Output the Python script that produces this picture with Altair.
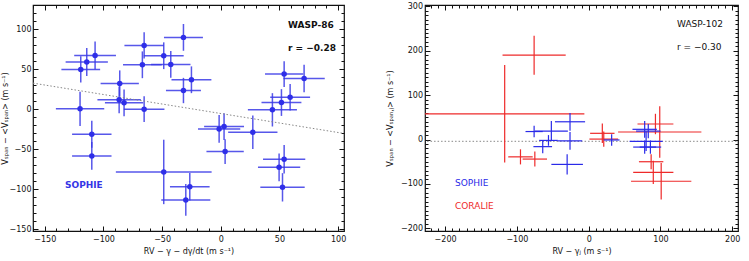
import altair as alt
import pandas as pd

FONT = "DejaVu Sans"

# ---------------- WASP-86 (SOPHIE) ----------------
w86_rv = [-119.3, -114.2, -107.1, -119.9, -109.9, -109.9, -86.1, -86.6, -82.4, -66.8,
          -65.3, -65.3, -48.6, -42.6, -31.8, -31.8, -25.0, -48.6, -26.4, -29.8,
          -1.4, 2.8, 3.7, 27.3, 44.0, 51.7, 59.1, 54.0, 71.0, 49.7, 54.0, 52.6]
w86_rv_err = [16.5, 18.0, 17.8, 20.6, 16.8, 16.8, 16.3, 18.5, 16.3, 16.5,
              16.8, 17.3, 17.0, 16.8, 16.6, 14.9, 17.0, 40.8, 16.9, 20.9,
              18.0, 17.0, 15.9, 21.0, 20.9, 17.0, 17.0, 16.3, 17.6, 18.0, 18.0, 18.9]
w86_vspan = [49.6, 58.8, 67.1, 0.4, -31.3, -58.3, 32.1, 11.7, 7.9, 55.4,
             79.6, 0.0, 66.7, 55.8, 89.6, 23.3, 36.7, -78.3, -96.7, -113.3,
             -24.6, -21.7, -52.9, -28.8, -0.8, 8.3, 15.0, 43.8, 38.3, -72.5, -62.5, -97.5]
w86_vspan_err = [16.3, 17.5, 17.3, 21.5, 16.9, 17.3, 16.3, 16.7, 16.7, 16.7,
                 16.3, 16.0, 16.7, 16.7, 16.7, 15.8, 16.7, 40.2, 17.1, 19.8,
                 17.3, 16.7, 15.4, 20.8, 20.8, 16.7, 16.5, 16.0, 17.1, 17.3, 17.7, 17.7]
w86_fit_x = [-160, 105]
w86_fit_slope = -0.237
w86_fit_intercept = -5.4

# ---------------- WASP-102 ----------------
w102s_rv = [-76, -52, -26, -26, -56, -64, -30, 32, 78, 83, 80, 78, 86]
w102s_rv_err = [12, 23, 21, 17, 13, 13, 22, 11, 17, 17, 23, 16, 15]
w102s_vspan = [18, 19, 40, -3, -2, -16, -56, -1, 23, 19, -4, -17, -17]
w102s_vspan_err = [13, 23, 20, 20, 12, 15, 23, 13, 19, 16, 22, 15, 15]

w102c_rv = [-76, -117, -95, -75, 19, 21, 99, 93, 87, 90, 101]
w102c_rv_err = [44, 111, 17, 17, 17, 20, 58, 25, 17, 28, 42]
w102c_vspan = [190, 58, -39, -44, 14, 1, 17, 35, -50, -74, -94]
w102c_vspan_err = [44, 110, 17, 17, 22, 17, 58, 23, 17, 26, 41]
w102_fit_x = [-230, 210]
w102_fit_slope = 0.0
w102_fit_intercept = -4.0

# axis ticks
L_X_MAJOR = [-150, -100, -50, 0, 50, 100]
L_X_MINOR = [v for v in range(-160, 106, 10) if v not in L_X_MAJOR]
L_Y_MAJOR = [-150, -100, -50, 0, 50, 100]
L_Y_MINOR = [v for v in range(-150, 131, 10) if v not in L_Y_MAJOR]
R_X_MAJOR = [-200, -100, 0, 100, 200]
R_X_MINOR = [v for v in range(-220, 209, 10) if v not in R_X_MAJOR]
R_Y_MAJOR = [-200, -100, 0, 100, 200, 300]
R_Y_MINOR = [v for v in range(-200, 301, 10) if v not in R_Y_MAJOR]

L_XDOM = [-160, 105]
L_YDOM = [-152, 130]
R_XDOM = [-228, 208]
R_YDOM = [-206, 303]

TICK_COLOR = "#111111"


def tick_axis(orient, values, size):
    return alt.Axis(orient=orient, values=values, tickSize={"expr": str(-size)},
                    labels=False, domain=False, grid=False, ticks=True, title=None,
                    tickColor=TICK_COLOR, tickWidth=1)


def label_axis(orient, values, size, title, label_pad, title_pad):
    return alt.Axis(orient=orient, values=values, tickSize={"expr": str(-size)},
                    labels=True, domain=False, grid=False, ticks=True, title=title,
                    labelPadding=label_pad, titlePadding=title_pad,
                    labelFont=FONT, labelFontSize=8, labelColor=TICK_COLOR,
                    titleFont=FONT, titleFontSize=8, titleFontWeight="normal",
                    titleColor=TICK_COLOR, labelFlush=False, labelOverlap=False,
                    tickColor=TICK_COLOR, tickWidth=1)


def make_df(rv, rv_err, vs, vs_err):
    df = pd.DataFrame({"x": rv, "xerr": rv_err, "y": vs, "yerr": vs_err})
    df["x_lo"] = df["x"] - df["xerr"]
    df["x_hi"] = df["x"] + df["xerr"]
    df["y_lo"] = df["y"] - df["yerr"]
    df["y_hi"] = df["y"] + df["yerr"]
    return df


def fit_df(xs, slope, intercept):
    return pd.DataFrame({"x": xs, "y": [intercept + slope * v for v in xs]})


# ---------------- left panel ----------------
d86 = make_df(w86_rv, w86_rv_err, w86_vspan, w86_vspan_err)
f86 = fit_df(w86_fit_x, w86_fit_slope, w86_fit_intercept)
lxs = alt.Scale(domain=L_XDOM, nice=False, zero=False)
lys = alt.Scale(domain=L_YDOM, nice=False, zero=False)
BLUE_L = "#3a3ae6"

l_xerr = alt.Chart(d86).mark_rule(color=BLUE_L, strokeWidth=1.5, opacity=0.85, clip=True).encode(
    x=alt.X("x_lo:Q", scale=lxs,
            axis=label_axis("bottom", L_X_MAJOR, 5, "RV − γ − dγ/dt (m s⁻¹)", 9, 4)),
    x2="x_hi:Q",
    y=alt.Y("y:Q", scale=lys,
            axis=label_axis("left", L_Y_MAJOR, 5, "Vₛₚₐₙ − <Vₛₚₐₙ> (m s⁻¹)", 7, 0)),
)
l_yerr = alt.Chart(d86).mark_rule(color=BLUE_L, strokeWidth=1.5, opacity=0.85, clip=True).encode(
    x=alt.X("x:Q", scale=lxs, axis=tick_axis("bottom", L_X_MINOR, 3)),
    y=alt.Y("y_lo:Q", scale=lys, axis=tick_axis("left", L_Y_MINOR, 3)),
    y2="y_hi:Q",
)
l_fit = alt.Chart(f86).mark_line(color="#888888", strokeWidth=1, strokeDash=[1.5, 2], clip=True).encode(
    x=alt.X("x:Q", scale=lxs, axis=tick_axis("top", L_X_MINOR, 3)),
    y=alt.Y("y:Q", scale=lys, axis=tick_axis("right", L_Y_MINOR, 3)),
)
l_pts = alt.Chart(d86).mark_circle(color="#2f2fe8", size=30, opacity=1).encode(
    x=alt.X("x:Q", scale=lxs, axis=tick_axis("top", L_X_MAJOR, 5)),
    y=alt.Y("y:Q", scale=lys, axis=tick_axis("right", L_Y_MAJOR, 5)),
)


def note(text, px, py, color="#111111", weight="bold"):
    return alt.Chart(pd.DataFrame({"t": [text]})).mark_text(
        align="left", baseline="middle", font=FONT, fontSize=9, fontWeight=weight, color=color
    ).encode(x=alt.value(px), y=alt.value(py), text="t:N")


left = alt.layer(
    l_xerr, l_yerr, l_fit, l_pts,
    note("WASP-86", 255, 20),
    note("r = −0.28", 255, 43),
    note("SOPHIE", 32, 180, color="#3535e6"),
).resolve_axis(x="independent", y="independent").properties(width=311, height=226)

# ---------------- right panel ----------------
ds = make_df(w102s_rv, w102s_rv_err, w102s_vspan, w102s_vspan_err)
dc = make_df(w102c_rv, w102c_rv_err, w102c_vspan, w102c_vspan_err)
f102 = fit_df(w102_fit_x, w102_fit_slope, w102_fit_intercept)
rxs = alt.Scale(domain=R_XDOM, nice=False, zero=False)
rys = alt.Scale(domain=R_YDOM, nice=False, zero=False)
RED = "#ee2a2a"
BLUE = "#2a2ae8"

r_cx = alt.Chart(dc).mark_rule(color=RED, strokeWidth=1.2, clip=True).encode(
    x=alt.X("x_lo:Q", scale=rxs,
            axis=label_axis("bottom", R_X_MAJOR, 5, "RV − γⱼ (m s⁻¹)", 9, 4)),
    x2="x_hi:Q",
    y=alt.Y("y:Q", scale=rys,
            axis=label_axis("left", R_Y_MAJOR, 5, "Vₛₚₐₙ − <Vₛₚₐₙ,ⱼ> (m s⁻¹)", 7.5, 6)),
)
r_cy = alt.Chart(dc).mark_rule(color=RED, strokeWidth=1.2, clip=True).encode(
    x=alt.X("x:Q", scale=rxs, axis=tick_axis("bottom", R_X_MINOR, 3)),
    y=alt.Y("y_lo:Q", scale=rys, axis=tick_axis("left", R_Y_MINOR, 3)),
    y2="y_hi:Q",
)
r_fit = alt.Chart(f102).mark_line(color="#888888", strokeWidth=1, strokeDash=[1.5, 2], clip=True).encode(
    x=alt.X("x:Q", scale=rxs, axis=None),
    y=alt.Y("y:Q", scale=rys, axis=None),
)
r_sx = alt.Chart(ds).mark_rule(color=BLUE, strokeWidth=1.2, clip=True).encode(
    x=alt.X("x_lo:Q", scale=rxs, axis=tick_axis("top", R_X_MAJOR, 5)),
    x2="x_hi:Q",
    y=alt.Y("y:Q", scale=rys, axis=tick_axis("right", R_Y_MAJOR, 5)),
)
r_sy = alt.Chart(ds).mark_rule(color=BLUE, strokeWidth=1.2, clip=True).encode(
    x=alt.X("x:Q", scale=rxs, axis=tick_axis("top", R_X_MINOR, 3)),
    y=alt.Y("y_lo:Q", scale=rys, axis=tick_axis("right", R_Y_MINOR, 3)),
    y2="y_hi:Q",
)

right = alt.layer(
    r_fit, r_cx, r_cy, r_sx, r_sy,
    note("WASP-102", 252, 19, weight="normal"),
    note("r = −0.30", 252, 42, weight="normal"),
    note("SOPHIE", 30, 178, color=BLUE, weight="normal"),
    note("CORALIE", 30, 201, color=RED, weight="normal"),
).resolve_axis(x="independent", y="independent").properties(width=313, height=226)

chart = alt.hconcat(left, right, spacing=38).properties(
    padding={"left": 0, "top": 1, "right": 0, "bottom": 0},
    background="white",
).configure_view(stroke="#111111", strokeWidth=1.2)

chart.save("out.html", embed_options={"renderer": "svg", "actions": False})
